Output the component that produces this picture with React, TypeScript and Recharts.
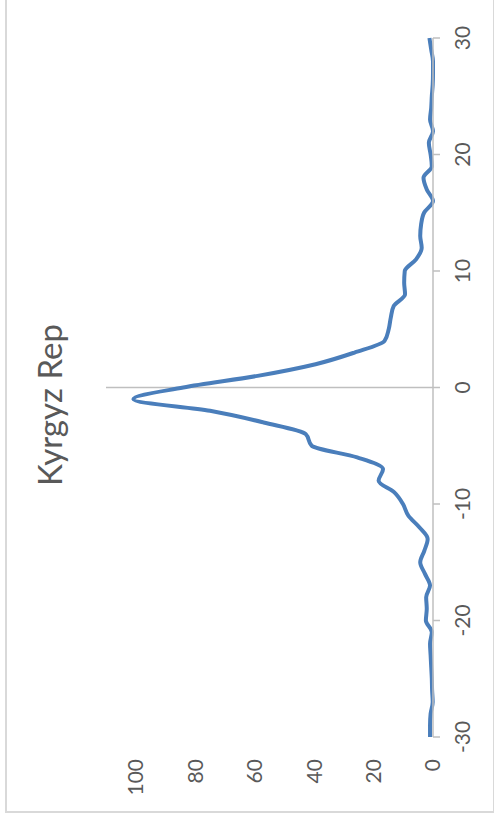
import React from "react";
import { LineChart, Line, XAxis, YAxis, ReferenceLine } from "recharts";

const TITLE = "Kyrgyz Rep";

const lags = [
  -30, -29, -28, -27, -26, -25, -24, -23, -22, -21, -20, -19, -18, -17, -16, -15,
  -14, -13, -12, -11, -10, -9, -8, -7, -6, -5, -4, -3, -2, -1, 0, 1, 2, 3, 4, 5,
  6, 7, 8, 9, 10, 11, 12, 13, 14, 15, 16, 17, 18, 19, 20, 21, 22, 23, 24, 25, 26,
  27, 28, 29, 30,
];

const values = [
  1.0, 1.0, 0.8, 0.1, 0.3, 0.4, 0.6, 0.8, 1.0, 0.4, 2.4, 2.1, 2.3, 1.0, 2.7, 4.3,
  2.9, 1.8, 4.6, 8.3, 10.1, 13.0, 18.3, 16.8, 25.5, 40.8, 42.8, 57.0, 75.0, 100.8,
  84.0, 59.0, 39.5, 26.4, 16.3, 14.9, 14.2, 13.2, 9.4, 9.7, 9.5, 5.7, 3.8, 4.3,
  4.0, 3.0, 0.0, 2.1, 3.2, 0.4, 0.8, 1.4, 0.0, 1.0, 0.6, 0.4, 0.1, 0.0, 0.0, 0.6,
  1.2,
];

const lagTicks = [-30, -20, -10, 0, 10, 20, 30];
const valueTicks = [0, 20, 40, 60, 80, 100];

const data = lags.map((lag, i) => ({ lag, value: values[i] }));

const FONT = "'Liberation Sans Narrow', 'Lato', sans-serif";
const AXIS = "#bfbfbf";
const TEXT = "#595959";

export default function App() {
  const W = 816;
  const H = 490;
  return (
    <div
      style={{
        position: "fixed",
        left: 0,
        top: 0,
        width: 494,
        height: 820,
        overflow: "hidden",
        background: "#fff",
      }}
    >
      <div
        style={{
          position: "absolute",
          left: 5,
          top: 813,
          width: W,
          height: H,
          transformOrigin: "0 0",
          transform: "rotate(-90deg)",
          boxSizing: "border-box",
          border: "2px solid #d9d9d9",
          background: "#fff",
        }}
      >
        <div style={{ position: "absolute", left: -2, top: -2 }}>
          <LineChart
            width={W}
            height={H}
            data={data}
            margin={{ top: 101, right: 41, bottom: 22, left: 36 }}
          >
            <XAxis
              type="number"
              dataKey="lag"
              domain={[-30, 30]}
              ticks={lagTicks}
              interval={0}
              height={40}
              axisLine={{ stroke: AXIS, strokeWidth: 1.5 }}
              tickLine={{ stroke: AXIS, strokeWidth: 1.5 }}
              tickSize={7}
              tickMargin={15}
              tick={{ fill: TEXT, fontSize: 21, fontFamily: FONT }}
            />
            <YAxis
              type="number"
              domain={[0, 110]}
              ticks={valueTicks}
              interval={0}
              width={40}
              axisLine={false}
              tickLine={false}
              tickSize={0}
              tickMargin={22}
              tick={{ fill: TEXT, fontSize: 21, fontFamily: FONT }}
            />
            <ReferenceLine x={0} stroke={AXIS} strokeWidth={1.5} />
            <Line
              type="monotone"
              dataKey="value"
              stroke="#4a7ebb"
              strokeWidth={4}
              dot={false}
              activeDot={false}
              isAnimationActive={false}
            />
          </LineChart>
          <svg
            width={W}
            height={H}
            style={{ position: "absolute", left: 0, top: 0, pointerEvents: "none" }}
          >
            <text
              x={408}
              y={57}
              textAnchor="middle"
              fontSize={33}
              fontFamily={FONT}
              fill={TEXT}
            >
              {TITLE}
            </text>
          </svg>
        </div>
      </div>
    </div>
  );
}
